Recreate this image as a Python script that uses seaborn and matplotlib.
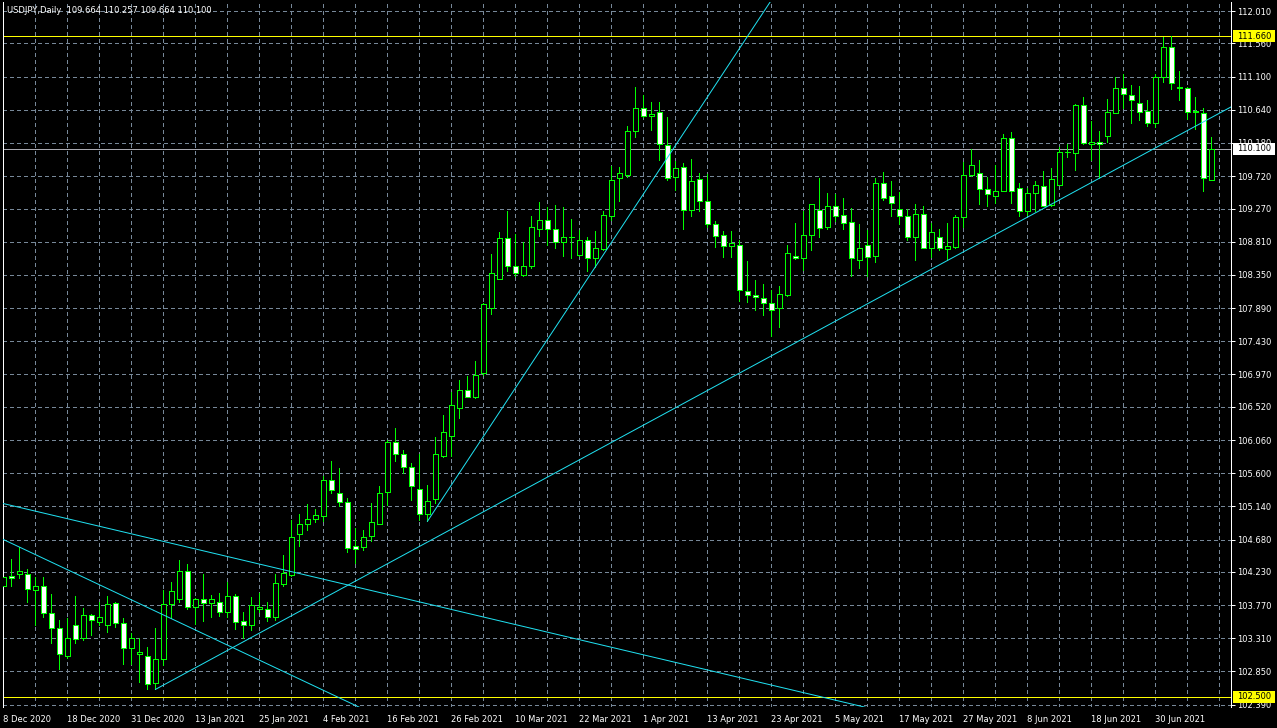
import numpy as np
import pandas as pd
import seaborn as sns
import matplotlib
matplotlib.use("Agg")
import matplotlib.pyplot as plt
from matplotlib.patches import Rectangle
from matplotlib.transforms import blended_transform_factory

# --- data ---
symbol = "USDJPY,Daily"
holidays = ["2020-12-25", "2021-01-01"]
dates = pd.bdate_range("2020-12-08", "2021-07-09")
dates = dates[~dates.isin(pd.to_datetime(holidays))]

opens = [104.04, 104.18, 104.20, 104.20, 103.98, 104.03, 103.66, 103.45, 103.07, 103.49,
         103.31, 103.63, 103.53, 103.49, 103.80, 103.52, 103.17, 103.09, 103.06, 102.69,
         103.02, 103.78, 103.86, 104.25, 103.75, 103.86, 103.80, 103.81, 103.68, 103.89,
         103.55, 103.49, 103.72, 103.71, 103.60, 104.06, 104.19, 104.76, 104.90, 104.96,
         105.01, 105.50, 105.33, 105.20, 104.59, 104.57, 104.73, 104.90, 105.34, 106.03,
         105.87, 105.68, 105.38, 105.03, 105.24, 105.84, 106.12, 106.50, 106.75, 106.65,
         106.99, 107.89, 108.30, 108.86, 108.48, 108.35, 108.48, 108.99, 109.11, 108.98,
         108.81, 108.87, 108.62, 108.83, 108.58, 108.71, 109.17, 109.70, 109.74, 110.34,
         110.67, 110.56, 110.61, 110.15, 109.71, 109.84, 109.25, 109.68, 109.37, 109.05,
         108.90, 108.75, 108.76, 108.13, 108.07, 108.03, 107.96, 107.89, 108.07, 108.61,
         108.58, 108.91, 109.25, 109.02, 109.30, 109.18, 109.08, 108.56, 108.76, 108.61,
         109.62, 109.44, 109.27, 109.16, 108.88, 109.19, 108.73, 108.88, 108.71, 108.74,
         109.15, 109.74, 109.76, 109.54, 109.45, 109.52, 110.25, 109.55, 109.23, 109.48,
         109.58, 109.32, 109.60, 110.05, 110.04, 110.70, 110.17, 110.19, 110.27, 110.59,
         110.94, 110.84, 110.73, 110.63, 110.45, 111.09, 111.51, 110.95, 110.94, 110.62,
         110.59, 109.664]
highs = [104.21, 104.41, 104.57, 104.27, 104.16, 104.16, 103.92, 103.56, 103.59, 103.90,
         103.73, 103.64, 103.81, 103.90, 103.81, 103.59, 103.38, 103.31, 103.19, 103.45,
         103.98, 104.09, 104.40, 104.34, 103.87, 104.20, 103.91, 103.94, 104.09, 103.92,
         103.67, 103.88, 103.94, 103.82, 104.20, 104.47, 104.95, 105.03, 105.17, 105.10,
         105.56, 105.77, 105.67, 105.26, 104.84, 104.81, 105.19, 105.42, 106.06, 106.23,
         105.92, 105.74, 105.87, 105.44, 106.10, 106.41, 106.72, 106.89, 106.95, 107.16,
         107.96, 108.64, 108.95, 109.24, 108.92, 108.81, 109.17, 109.36, 109.29, 109.32,
         109.29, 109.13, 108.97, 108.87, 108.96, 109.24, 109.86, 109.84, 110.42, 110.95,
         110.85, 110.75, 110.75, 110.54, 109.93, 109.90, 109.96, 109.76, 109.75, 109.10,
         108.96, 108.96, 108.83, 108.54, 108.28, 108.22, 108.14, 108.20, 108.77, 109.07,
         109.23, 109.33, 109.69, 109.49, 109.47, 109.42, 109.28, 109.06, 108.97, 109.69,
         109.78, 109.65, 109.50, 109.27, 109.33, 109.31, 109.07, 108.99, 109.07, 109.18,
         109.92, 110.10, 109.95, 109.71, 109.88, 110.31, 110.33, 109.63, 109.56, 109.65,
         109.79, 109.83, 110.12, 110.16, 110.72, 110.82, 110.49, 110.34, 110.79, 111.09,
         111.13, 110.98, 110.97, 110.77, 111.13, 111.65, 111.66, 111.18, 110.96, 110.82,
         110.67, 110.257]
lows = [103.94, 104.04, 104.14, 103.82, 103.49, 103.60, 103.25, 102.88, 103.03, 103.25,
        103.28, 103.35, 103.50, 103.40, 103.46, 102.96, 102.95, 102.71, 102.60, 102.60,
        102.94, 103.59, 103.82, 103.71, 103.51, 103.55, 103.61, 103.62, 103.60, 103.44,
        103.31, 103.43, 103.67, 103.55, 103.56, 104.04, 104.17, 104.59, 104.81, 104.92,
        104.94, 105.33, 105.14, 104.50, 104.36, 104.53, 104.66, 104.89, 105.16, 105.77,
        105.60, 105.23, 104.95, 104.93, 105.18, 105.82, 105.84, 106.36, 106.65, 106.64,
        106.96, 107.81, 108.29, 108.41, 108.33, 108.34, 108.44, 108.89, 108.76, 108.73,
        108.61, 108.59, 108.61, 108.40, 108.46, 108.70, 109.11, 109.37, 109.71, 110.26,
        110.54, 110.36, 109.94, 109.66, 109.53, 108.99, 109.17, 109.23, 109.01, 108.74,
        108.60, 108.60, 107.99, 107.97, 107.87, 107.80, 107.50, 107.63, 108.06, 108.57,
        108.42, 108.70, 108.88, 108.99, 109.10, 108.99, 108.33, 108.45, 108.34, 108.53,
        109.39, 109.17, 109.05, 108.83, 108.56, 108.72, 108.60, 108.69, 108.56, 108.72,
        109.02, 109.72, 109.34, 109.31, 109.35, 109.52, 109.35, 109.17, 109.18, 109.23,
        109.30, 109.31, 109.60, 109.98, 109.80, 110.16, 109.94, 109.70, 110.20, 110.59,
        110.67, 110.46, 110.50, 110.42, 110.40, 111.02, 110.93, 110.78, 110.51, 110.38,
        109.52, 109.664]
closes = [104.16, 104.15, 104.24, 104.00, 104.03, 103.66, 103.45, 103.09, 103.31, 103.30,
          103.63, 103.56, 103.60, 103.78, 103.52, 103.17, 103.31, 103.12, 102.67, 103.02,
          103.78, 103.96, 104.25, 103.75, 103.86, 103.80, 103.86, 103.68, 103.89, 103.53,
          103.49, 103.77, 103.74, 103.60, 104.07, 104.21, 104.72, 104.90, 104.97, 105.02,
          105.50, 105.37, 105.20, 104.56, 104.55, 104.72, 104.92, 105.33, 106.03, 105.86,
          105.68, 105.42, 105.03, 105.22, 105.86, 106.17, 106.54, 106.75, 106.66, 106.96,
          107.95, 108.37, 108.86, 108.48, 108.37, 108.48, 109.02, 109.11, 108.98, 108.81,
          108.87, 108.87, 108.83, 108.58, 108.72, 109.18, 109.67, 109.76, 110.35, 110.67,
          110.56, 110.58, 110.16, 109.70, 109.83, 109.25, 109.65, 109.37, 109.05, 108.89,
          108.75, 108.79, 108.14, 108.07, 108.05, 107.96, 107.87, 108.08, 108.65, 108.58,
          108.91, 109.33, 109.00, 109.30, 109.17, 109.07, 108.59, 108.73, 108.60, 109.63,
          109.42, 109.35, 109.16, 108.88, 109.20, 108.73, 108.94, 108.73, 108.75, 109.15,
          109.73, 109.87, 109.54, 109.47, 109.52, 110.25, 109.52, 109.23, 109.48, 109.59,
          109.31, 109.68, 110.05, 110.05, 110.70, 110.18, 110.20, 110.16, 110.61, 110.94,
          110.86, 110.77, 110.61, 110.45, 111.09, 111.51, 111.01, 110.94, 110.61, 110.61,
          109.70, 110.100]

price_labels = [112.010, 111.560, 111.100, 110.640, 110.180, 109.720, 109.270, 108.810,
                108.350, 107.890, 107.430, 106.970, 106.520, 106.060, 105.600, 105.140,
                104.680, 104.230, 103.770, 103.310, 102.850, 102.390]
level_high = 111.660
level_low = 102.500
bid = 110.100

# trendline anchors (bar index, price)
trend_steep = [(53.0, 104.93), (89.4, 111.05)]
trend_support = [(19.0, 102.60), (153.3, 110.67)]
trend_down_a = [(19.4, 104.67), (107.5, 102.36)]
trend_down_b = [(0.2, 104.67), (39.6, 102.61)]

# --- style ---
sns.set_theme(style="dark", rc={"axes.facecolor": "black", "figure.facecolor": "black"})
plt.rcParams["font.family"] = ["DejaVu Sans"]

GREEN = "#00FF00"
CYAN = "#20E0F0"
GRID = "#778899"
FS = 6
PX = 0.72  # one pixel in points at 100 dpi

W, H = 1277, 728
fig = plt.figure(figsize=(W / 100, H / 100), dpi=100)
ax = fig.add_axes([2.7 / W, 21 / H, 1228.3 / W, 705 / H])
ax.set_facecolor("black")

df = pd.DataFrame({"date": dates, "open": opens, "high": highs, "low": lows, "close": closes})
df["x"] = np.arange(len(df))
df["bull"] = df["close"] >= df["open"]

# grid
for p in price_labels:
    ax.axhline(p, color=GRID, lw=PX, ls=(0, (3, 3)), zorder=0, antialiased=False)
for i in range(4, len(df) + 4, 4):
    ax.axvline(i, color=GRID, lw=PX, ls=(0, (3, 3)), zorder=0, antialiased=False)

# levels
ax.axhline(level_high, color="#FFFF00", lw=PX, zorder=1, antialiased=False)
ax.axhline(level_low, color="#FFFF00", lw=PX, zorder=1, antialiased=False)
ax.axhline(bid, color="#A8A8B0", lw=PX, zorder=1, antialiased=False)

# candles: wicks, then bodies (white = down day, black = up day)
ax.vlines(df["x"], df["low"], df["high"], color=GREEN, lw=PX, zorder=2, antialiased=False)
body_lo = np.minimum(df["open"], df["close"])
body_h = (df["close"] - df["open"]).abs()
ax.bar(df["x"], body_h, bottom=body_lo, width=0.56,
       color=np.where(df["bull"], "black", "white"), edgecolor=GREEN,
       linewidth=PX, zorder=3, antialiased=False)


# trendlines
def extend(anchors, xa, xb):
    (x0, y0), (x1, y1) = anchors
    k = (y1 - y0) / (x1 - x0)
    return [xa, xb], [y0 + k * (xa - x0), y0 + k * (xb - x0)]


for anchors, xa, xb in [(trend_steep, 53.0, 100.0),
                        (trend_support, 19.0, 160.0),
                        (trend_down_a, -2.0, 120.0),
                        (trend_down_b, -2.0, 45.0)]:
    xs, ys = extend(anchors, xa, xb)
    sns.lineplot(x=xs, y=ys, ax=ax, color=CYAN, lw=PX, sort=False, legend=False, zorder=4)

ax.set_xlim(-0.075, 153.46)
ax.set_ylim(102.357, 112.135)

# axes
for s in ["top", "bottom"]:
    ax.spines[s].set_visible(False)
for s in ["left", "right"]:
    ax.spines[s].set_color("white")
    ax.spines[s].set_linewidth(PX)

ax.yaxis.tick_right()
ax.set_yticks(price_labels)
ax.set_yticklabels([f"{p:.3f}" for p in price_labels])
ax.tick_params(axis="y", colors="white", labelcolor="white", length=3, width=PX,
               pad=1.5, labelsize=FS)

xt = list(range(0, len(df), 8))
ax.set_xticks(xt)
ax.set_xticklabels([f"{d.day} {d.strftime('%b %Y')}" for d in df["date"].iloc[xt]], ha="left")
ax.set_xticks(list(range(4, len(df), 8)), minor=True)
ax.tick_params(axis="x", which="both", colors="white", labelcolor="white", length=3,
               width=PX, pad=3, labelsize=FS)
ax.set_xlabel("")
ax.set_ylabel("")

# price tags on the scale
tr = blended_transform_factory(ax.transAxes, ax.transData)
ppx = (ax.get_ylim()[1] - ax.get_ylim()[0]) / 705
for val, fc in [(level_high, "#FFFF00"), (level_low, "#FFFF00"), (bid, "white")]:
    ax.add_patch(Rectangle((1 + 1.7 / 1228.3, val - 6 * ppx), 42 / 1228.3, 12 * ppx,
                           transform=tr, facecolor=fc, edgecolor="none",
                           clip_on=False, zorder=5))
    ax.text(1 + 6 / 1228.3, val, f"{val:.3f}", transform=tr, color="black",
            fontsize=FS, va="center", ha="left", clip_on=False, zorder=6)

# header
o, h, l, c = opens[-1], highs[-1], lows[-1], closes[-1]
fig.text(6.7 / W, 1 - 10.5 / H, f"{symbol}  {o:.3f} {h:.3f} {l:.3f} {c:.3f}",
         color="white", fontsize=FS, va="center", ha="left")

fig.savefig("out.png", dpi=100, facecolor="black")
